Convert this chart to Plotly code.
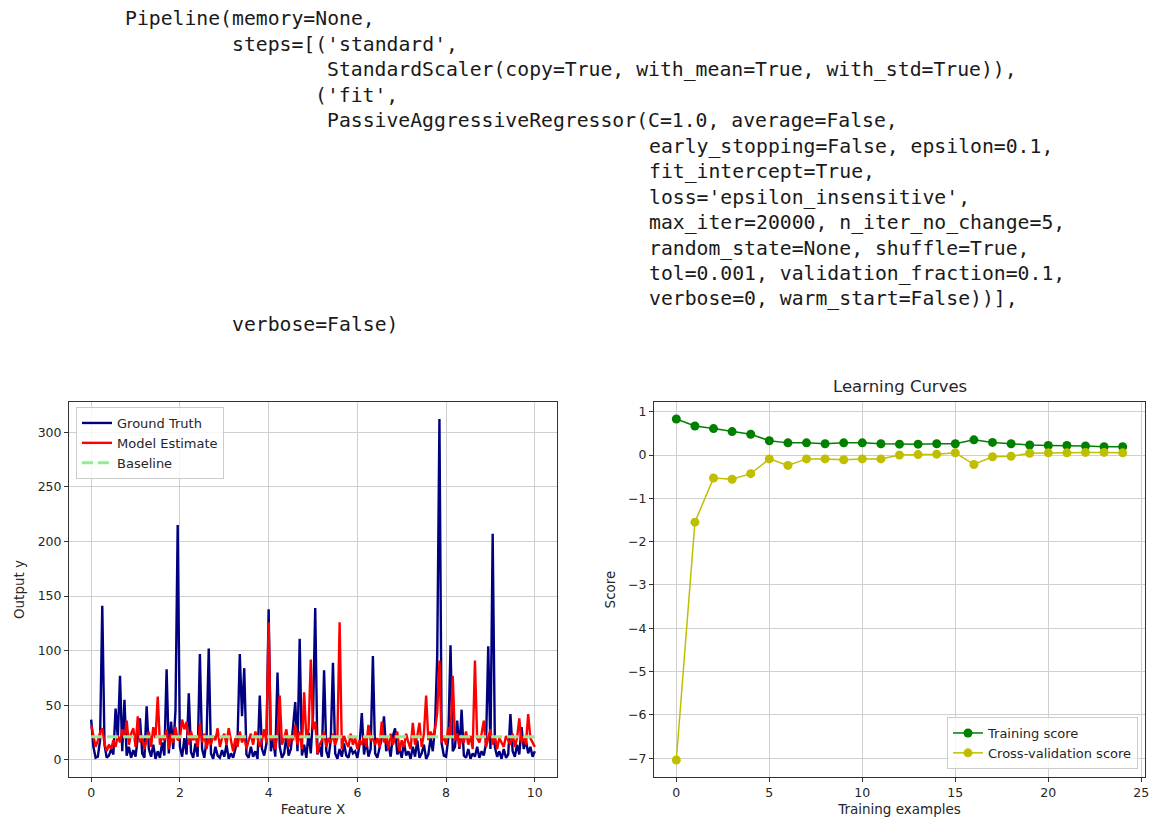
import numpy as np
import plotly.graph_objects as go

# ---------------- data ----------------
code_lines = [
    "Pipeline(memory=None,",
    "         steps=[('standard',",
    "                 StandardScaler(copy=True, with_mean=True, with_std=True)),",
    "                ('fit',",
    "                 PassiveAggressiveRegressor(C=1.0, average=False,",
    "                                            early_stopping=False, epsilon=0.1,",
    "                                            fit_intercept=True,",
    "                                            loss='epsilon_insensitive',",
    "                                            max_iter=20000, n_iter_no_change=5,",
    "                                            random_state=None, shuffle=True,",
    "                                            tol=0.001, validation_fraction=0.1,",
    "                                            verbose=0, warm_start=False))],",
    "         verbose=False)",
]

feature_x = np.linspace(0, 10, 201)

ground_truth = [
    37, 12, 2, 3, 18, 141, 14, 2, 4, 10,
    5, 47, 20, 77, 8, 55, 4, 12, 2, 9,
    3, 18, 38, 6, 2, 49, 10, 3, 14, 1,
    8, 2, 16, 4, 83, 6, 35, 10, 45, 215,
    12, 3, 20, 5, 61, 7, 2, 15, 3, 97,
    10, 2, 18, 102, 6, 1, 12, 4, 2, 9,
    3, 14, 1, 6, 2, 10, 20, 97, 40, 84,
    5, 2, 12, 3, 8, 1, 59, 10, 4, 15,
    138, 8, 20, 3, 80, 12, 2, 6, 22, 4,
    10, 30, 53, 8, 111, 4, 14, 2, 25, 6,
    40, 139, 5, 12, 3, 82, 8, 2, 18, 89,
    6, 1, 10, 3, 15, 4, 2, 12, 6, 8,
    2, 14, 43, 5, 18, 3, 10, 95, 6, 2,
    12, 20, 40, 8, 15, 3, 22, 29, 5, 10,
    2, 16, 4, 8, 1, 12, 3, 18, 2, 6,
    14, 1, 5, 20, 8, 30, 95, 312, 15, 4,
    3, 20, 105, 8, 12, 36, 10, 46, 4, 2,
    10, 1, 6, 3, 12, 2, 8, 4, 15, 104,
    10, 207, 12, 3, 8, 1, 10, 2, 5, 42,
    8, 3, 14, 5, 30, 10, 18, 6, 12, 3,
    8,
]

model_estimate = [
    32, 20, 12, 18, 25, 29, 15, 8, 14, 10,
    18, 12, 22, 16, 28, 20, 36, 14, 24, 29,
    12, 40, 16, 22, 10, 18, 26, 12, 30, 20,
    58, 14, 22, 18, 28, 10, 24, 16, 30, 18,
    20, 37, 28, 35, 14, 26, 18, 22, 12, 33,
    16, 24, 10, 20, 14, 22, 18, 29, 12, 20,
    24, 14, 29, 18, 8, 20, 12, 26, 16, 22,
    10, 18, 24, 14, 26, 20, 12, 18, 28, 16,
    126, 18, 22, 10, 24, 59, 14, 20, 28, 12,
    22, 18, 32, 14, 26, 10, 62, 20, 28, 92,
    28, 35, 6, 14, 18, 26, 12, 20, 16, 24,
    14, 20, 126, 10, 22, 16, 12, 24, 14, 20,
    10, 18, 14, 22, 12, 32, 18, 20, 14, 20,
    12, 35, 16, 22, 10, 24, 14, 20, 26, 8,
    18, 12, 24, 16, 10, 34, 14, 22, 34, 12,
    24, 59, 18, 26, 20, 28, 43, 91, 16, 22,
    14, 30, 20, 77, 18, 24, 12, 20, 16, 26,
    14, 22, 10, 91, 20, 16, 24, 36, 12, 20,
    28, 14, 22, 10, 20, 16, 12, 22, 18, 14,
    24, 12, 20, 38, 16, 22, 14, 42, 20, 16,
    12,
]

baseline_x = [0, 10]
baseline_y = [21.3, 21.3]

train_sizes = list(range(25))
training_score = [0.83, 0.67, 0.61, 0.54, 0.48, 0.33, 0.28, 0.28, 0.26, 0.28,
                  0.28, 0.26, 0.25, 0.25, 0.26, 0.26, 0.35, 0.29, 0.26, 0.23,
                  0.22, 0.22, 0.21, 0.19, 0.19]
cv_score = [-7.04, -1.55, -0.53, -0.56, -0.43, -0.09, -0.24, -0.09, -0.09, -0.11,
            -0.09, -0.09, 0.0, 0.01, 0.02, 0.05, -0.22, -0.04, -0.03, 0.04,
            0.05, 0.05, 0.06, 0.06, 0.05]

# ---------------- figure ----------------
W, H = 1153, 818
FONT = "DejaVu Sans"
TXT = "#262626"

fig = go.Figure()

fig.add_trace(go.Scatter(x=feature_x, y=ground_truth, mode="lines", name="Ground Truth",
                         line=dict(color="#000080", width=2.4), xaxis="x", yaxis="y",
                         legend="legend"))
fig.add_trace(go.Scatter(x=feature_x, y=model_estimate, mode="lines", name="Model Estimate",
                         line=dict(color="#ff0000", width=2.4), xaxis="x", yaxis="y",
                         legend="legend"))
fig.add_trace(go.Scatter(x=baseline_x, y=baseline_y, mode="lines", name="Baseline",
                         line=dict(color="#90ee90", width=3, dash="11px,5px"),
                         xaxis="x", yaxis="y", legend="legend"))

fig.add_trace(go.Scatter(x=train_sizes, y=training_score, mode="lines+markers",
                         name="Training score",
                         line=dict(color="#008000", width=1.5),
                         marker=dict(color="#008000", size=9),
                         xaxis="x2", yaxis="y2", legend="legend2"))
fig.add_trace(go.Scatter(x=train_sizes, y=cv_score, mode="lines+markers",
                         name="Cross-validation score",
                         line=dict(color="#bfbf00", width=1.5),
                         marker=dict(color="#bfbf00", size=9),
                         xaxis="x2", yaxis="y2", legend="legend2"))

def px_x(p):
    return p / W

def px_y(p):
    return 1 - p / H

axis_common = dict(showgrid=True, gridcolor="#cfcfcf", gridwidth=1, zeroline=False,
                   showline=True, linecolor="#333333", linewidth=1, mirror=True,
                   ticks="outside", ticklen=4, tickcolor="#333333",
                   tickfont=dict(family=FONT, size=12.5, color=TXT), automargin=False)
label_font = dict(family=FONT, size=13.5, color=TXT)

top_px, bot_px = 402, 777
fig.update_layout(
    width=W, height=H,
    margin=dict(l=0, r=0, t=0, b=0),
    paper_bgcolor="white", plot_bgcolor="white",
    font=dict(family=FONT, size=12, color=TXT),
    xaxis=dict(domain=[px_x(69), px_x(557)], range=[-0.5, 10.5],
               tickvals=[0, 2, 4, 6, 8, 10], anchor="y",
               title=dict(text="Feature X", standoff=5, font=label_font), **axis_common),
    yaxis=dict(domain=[px_y(bot_px), px_y(top_px)], range=[-15.6, 327.6],
               tickvals=[0, 50, 100, 150, 200, 250, 300], anchor="x",
               title=dict(text="Output y", standoff=9, font=label_font), **axis_common),
    xaxis2=dict(domain=[px_x(654), px_x(1145)], range=[-1.2, 25.2],
                tickvals=[0, 5, 10, 15, 20, 25], anchor="y2",
                title=dict(text="Training examples", standoff=5, font=label_font), **axis_common),
    yaxis2=dict(domain=[px_y(bot_px), px_y(top_px)], range=[-7.4335, 1.2235],
                tickvals=[-7, -6, -5, -4, -3, -2, -1, 0, 1],
                ticktext=["\u22127", "\u22126", "\u22125", "\u22124", "\u22123", "\u22122", "\u22121", "0", "1"],
                anchor="x2",
                title=dict(text="Score", standoff=9, font=label_font), **axis_common),
    legend=dict(x=px_x(76), y=px_y(407), xanchor="left", yanchor="top",
                bgcolor="rgba(255,255,255,0.8)", bordercolor="#cccccc", borderwidth=1,
                font=dict(family=FONT, size=13, color=TXT), itemwidth=30,
                tracegroupgap=0),
    legend2=dict(x=px_x(1138), y=px_y(769), xanchor="right", yanchor="bottom",
                 bgcolor="rgba(255,255,255,0.8)", bordercolor="#cccccc", borderwidth=1,
                 font=dict(family=FONT, size=13, color=TXT), itemwidth=30,
                 tracegroupgap=0),
    showlegend=True,
)

annotations = [
    dict(text="Learning Curves", x=(px_x(654) + px_x(1145)) / 2, y=px_y(387),
         xref="paper", yref="paper", xanchor="center", yanchor="middle",
         showarrow=False, font=dict(family=FONT, size=16.5, color=TXT)),
]

x0_px, char_w, y0_px, line_h = 123, 11.9, 19, 25.45
for i, line in enumerate(code_lines):
    indent = len(line) - len(line.lstrip(" "))
    annotations.append(dict(
        text=line.lstrip(" "), x=px_x(x0_px + indent * char_w), y=px_y(y0_px + i * line_h),
        xref="paper", yref="paper", xanchor="left", yanchor="middle", showarrow=False,
        font=dict(family="DejaVu Sans Mono", size=19.75, color="#1a1a1a")))

fig.update_layout(annotations=annotations)

fig.write_html("out.html")
